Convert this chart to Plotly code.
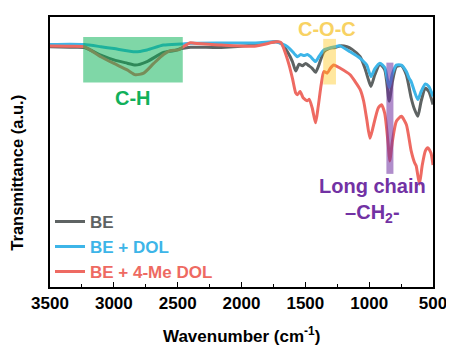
import plotly.graph_objects as go

# ---- data ----
be_wn = [3500, 3345, 3231, 3102, 2999, 2895, 2831, 2740, 2611, 2533, 2469, 2399, 2159, 1898,
         1730, 1692, 1640, 1601, 1575, 1549, 1523, 1498, 1471, 1446, 1420, 1394, 1355, 1316,
         1267, 1229, 1174, 1136, 1071, 1033, 1006, 986, 955, 916, 878, 843, 818, 787, 748,
         709, 671, 645, 619, 593, 560, 533, 500]
be_t = [89.0, 88.8, 88.7, 85.9, 84.1, 82.9, 82.2, 83.5, 86.9, 87.5, 88.3, 88.8, 88.7, 89.6,
        90.8, 90.3, 87.1, 83.5, 80.0, 82.5, 81.9, 82.8, 81.9, 81.0, 79.5, 82.2, 87.1, 88.3,
        88.7, 89.3, 89.0, 88.1, 85.3, 81.0, 76.8, 74.3, 78.7, 82.5, 80.4, 68.8, 76.1, 81.6, 82.0,
        78.6, 70.0, 65.8, 63.2, 68.8, 73.6, 72.4, 67.6]

dol_wn = [3500, 3345, 3231, 3102, 2999, 2831, 2740, 2611, 2469, 2399, 2159, 1898, 1730, 1640,
          1588, 1562, 1536, 1510, 1484, 1459, 1420, 1394, 1355, 1304, 1267, 1229, 1149, 1071,
          1019, 986, 955, 916, 878, 843, 818, 787, 748, 709, 686, 671, 645, 619, 593, 560, 533, 500]
dol_t = [89.8, 89.9, 89.8, 89.0, 88.3, 87.1, 87.8, 89.6, 90.0, 90.3, 90.4, 90.4, 90.8, 89.0,
         86.5, 85.3, 86.1, 85.7, 86.1, 85.3, 83.5, 85.3, 87.8, 88.6, 89.0, 89.3, 87.1, 84.7,
         82.2, 77.9, 80.9, 82.9, 81.3, 73.9, 79.0, 82.2, 82.2, 79.8, 77.2, 76.1, 72.4, 69.4,
         72.4, 75.2, 74.3, 70.6]

me_wn = [3500, 3345, 3231, 3102, 2999, 2895, 2831, 2766, 2688, 2611, 2560, 2495, 2456, 2405,
         2368, 2159, 1898, 1730, 1692, 1665, 1627, 1601, 1575, 1562, 1541, 1516, 1484, 1469,
         1446, 1420, 1399, 1376, 1355, 1329, 1304, 1278, 1226, 1149, 1110, 1071, 1043, 1019,
         994, 973, 929, 903, 878, 851, 839, 818, 787, 748, 709, 671, 645, 632, 606, 585, 560,
         541, 516, 500]
me_t = [89.3, 89.2, 89.0, 85.3, 82.8, 80.4, 78.6, 79.2, 82.8, 86.1, 87.5, 87.8, 89.0, 90.4,
        90.3, 89.6, 89.2, 90.8, 90.6, 87.8, 82.2, 77.3, 71.8, 71.2, 72.4, 70.0, 69.0, 69.5,
        66.3, 60.8, 66.9, 74.9, 79.8, 79.2, 81.0, 82.2, 81.0, 78.6, 76.1, 73.2, 68.8, 62.1,
        55.1, 58.5, 66.3, 67.5, 64.3, 52.8, 46.7, 54.0, 61.4, 63.2, 60.2, 50.4, 46.1, 44.9,
        38.1, 44.9, 50.4, 51.6, 49.6, 45.2]

series_names = ["BE", "BE + DOL", "BE + 4-Me DOL"]
series_colors = ["#5e6363", "#3db5e8", "#ee6a62"]
x_ticks = [3500, 3000, 2500, 2000, 1500, 1000, 500]

FONT = "Arial"

fig = go.Figure()
for name, color, xs, ys in zip(series_names, series_colors,
                               [be_wn, dol_wn, me_wn], [be_t, dol_t, me_t]):
    fig.add_trace(go.Scatter(
        x=xs, y=ys, mode="lines", line=dict(color=color, width=3, shape="spline", smoothing=0.6),
        name=f"<span style='color:{color}'>{name}</span>"))

# highlight bands
fig.add_shape(type="rect", xref="x", yref="y", x0=3240, x1=2460, y0=75.7, y1=92.6,
              fillcolor="rgba(0,176,80,0.5)", line_width=0, layer="above")
fig.add_shape(type="rect", xref="x", yref="y", x0=1360, x1=1260, y0=75.0, y1=91.9,
              fillcolor="rgba(255,192,0,0.38)", line_width=0, layer="above")
fig.add_shape(type="rect", xref="x", yref="y", x0=865, x1=810, y0=41.9, y1=83.1,
              fillcolor="rgba(112,48,160,0.55)", line_width=0, layer="above")

fig.add_annotation(x=2849, y=69.9, text="C-H", showarrow=False,
                   font=dict(family=FONT, size=20, color="#12b05a", weight="bold"))
fig.add_annotation(x=1329, y=95.6, text="C-O-C", showarrow=False,
                   font=dict(family=FONT, size=20, color="#f8d263", weight="bold"))
fig.add_annotation(x=973, y=32, text="Long chain<br>–CH<sub>2</sub>-", showarrow=False,
                   font=dict(family=FONT, size=20, color="#7232a4", weight="bold"))

# axis titles
fig.add_annotation(xref="paper", yref="paper", x=0.501, y=-0.176, xanchor="center", yanchor="middle",
                   text="Wavenumber (cm<sup>-1</sup>)", showarrow=False,
                   font=dict(family=FONT, size=17, color="black", weight="bold"))
fig.add_annotation(xref="paper", yref="paper", x=-0.085, y=0.425, xanchor="center", yanchor="middle",
                   text="Transmittance (a.u.)", textangle=-90, showarrow=False,
                   font=dict(family=FONT, size=16.5, color="black", weight="bold"))

fig.update_xaxes(range=[3500, 500], tickvals=x_ticks, ticks="inside", ticklen=5, tickwidth=1.3,
                 tickcolor="black", showline=True, linecolor="black", linewidth=1.5, mirror=True,
                 showgrid=False, zeroline=False,
                 minor=dict(dtick=250, ticks="inside", ticklen=3, tickcolor="black", tickwidth=1.2),
                 tickfont=dict(family=FONT, size=17, color="black", weight="bold"))
fig.update_yaxes(range=[0, 100], showticklabels=False, ticks="", showline=True, linecolor="black",
                 linewidth=1.5, mirror=True, showgrid=False, zeroline=False)

# page body has an 8px default margin: shrink the figure and its left/top margins to compensate
fig.update_layout(
    width=446, height=337, margin=dict(l=42, r=17, t=7, b=58),
    plot_bgcolor="white", paper_bgcolor="white", showlegend=True,
    legend=dict(x=0.0, y=0.308, xanchor="left", yanchor="top", bgcolor="rgba(0,0,0,0)",
                itemwidth=30, tracegroupgap=0,
                font=dict(family=FONT, size=17, weight="bold")),
)

fig.write_html("out.html")
